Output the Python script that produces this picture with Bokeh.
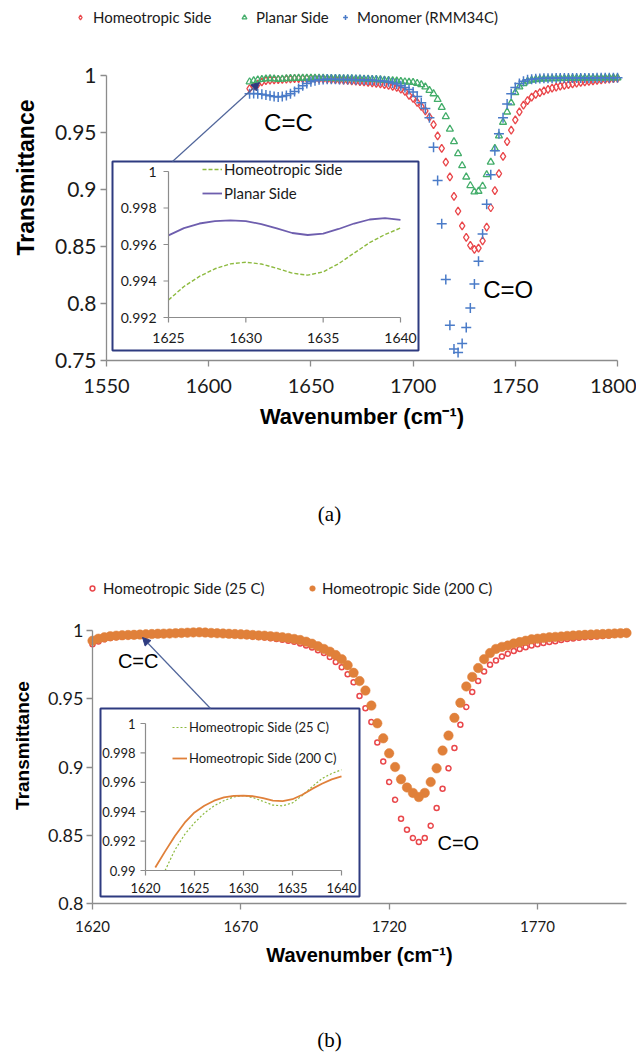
from bokeh.plotting import figure
from bokeh.models import (Range1d, FixedTicker, Legend, LegendItem, Label, Arrow,
                          NormalHead, BoxAnnotation)
from bokeh.embed import file_html
from bokeh.resources import INLINE
from bokeh.core.properties import value
import math

# ---------------------------------------------------------------- data (a)
wn_a = list(range(1620, 1801, 2))
homeo_a = [0.9885, 0.9905, 0.9925, 0.9945, 0.9955, 0.9960, 0.9962, 0.9963, 0.9965, 0.9968,
           0.9970, 0.9972, 0.9973, 0.9973, 0.9973, 0.9972, 0.9972, 0.9971, 0.9970, 0.9968,
           0.9966, 0.9964, 0.9962, 0.9960, 0.9957, 0.9953, 0.9950, 0.9947, 0.9944, 0.9940,
           0.9936, 0.9931, 0.9926, 0.9920, 0.9913, 0.9905, 0.9895, 0.9880, 0.9860, 0.9825,
           0.9800, 0.9765, 0.9730, 0.9690, 0.9635, 0.9570, 0.9470, 0.9360, 0.9240, 0.9110,
           0.8940, 0.8810, 0.8680, 0.8580, 0.8510, 0.8475, 0.8485, 0.8550, 0.8670, 0.8840,
           0.8990, 0.9140, 0.9290, 0.9420, 0.9520, 0.9610, 0.9680, 0.9740, 0.9780, 0.9810,
           0.9835, 0.9850, 0.9865, 0.9878, 0.9889, 0.9898, 0.9906, 0.9913, 0.9920, 0.9927,
           0.9933, 0.9939, 0.9944, 0.9949, 0.9953, 0.9957, 0.9961, 0.9965, 0.9969, 0.9973,
           0.9976]
planar_a = [0.9945, 0.9955, 0.9962, 0.9966, 0.9970, 0.9972, 0.9970, 0.9967, 0.9968, 0.9972,
            0.9974, 0.9975, 0.9976, 0.9976, 0.9977, 0.9977, 0.9977, 0.9976, 0.9976, 0.9975,
            0.9975, 0.9974, 0.9974, 0.9973, 0.9973, 0.9972, 0.9971, 0.9970, 0.9969, 0.9968,
            0.9967, 0.9965, 0.9963, 0.9960, 0.9957, 0.9955, 0.9952, 0.9948, 0.9945, 0.9942,
            0.9940, 0.9932, 0.9920, 0.9900, 0.9870, 0.9840, 0.9790, 0.9720, 0.9640, 0.9530,
            0.9420, 0.9315, 0.9210, 0.9110, 0.9035, 0.8980, 0.8985, 0.9030, 0.9130, 0.9240,
            0.9360, 0.9470, 0.9590, 0.9680, 0.9760, 0.9850, 0.9900, 0.9930, 0.9950, 0.9960,
            0.9965, 0.9968, 0.9970, 0.9971, 0.9972, 0.9973, 0.9974, 0.9975, 0.9975, 0.9976,
            0.9976, 0.9977, 0.9977, 0.9977, 0.9978, 0.9978, 0.9978, 0.9979, 0.9979, 0.9979,
            0.9980]
monomer_a = [0.9840, 0.9842, 0.9840, 0.9836, 0.9830, 0.9822, 0.9815, 0.9812, 0.9815, 0.9825,
             0.9840, 0.9860, 0.9885, 0.9910, 0.9930, 0.9945, 0.9955, 0.9962, 0.9966, 0.9968,
             0.9968, 0.9967, 0.9966, 0.9965, 0.9965, 0.9964, 0.9963, 0.9962, 0.9961, 0.9960,
             0.9958, 0.9956, 0.9955, 0.9950, 0.9945, 0.9935, 0.9925, 0.9910, 0.9895, 0.9878,
             0.9855, 0.9815, 0.9760, 0.9710, 0.9630, 0.9370, 0.9080, 0.8700, 0.8210, 0.7810,
             0.7600, 0.7570, 0.7650, 0.7790, 0.7960, 0.8170, 0.8370, 0.8610, 0.8870, 0.9130,
             0.9340, 0.9490, 0.9630, 0.9750, 0.9840, 0.9895, 0.9930, 0.9950, 0.9962, 0.9968,
             0.9972, 0.9974, 0.9975, 0.9976, 0.9976, 0.9977, 0.9977, 0.9977, 0.9978, 0.9978,
             0.9978, 0.9979, 0.9979, 0.9979, 0.9979, 0.9980, 0.9980, 0.9980, 0.9980, 0.9981,
             0.9981]

# inset (a)
wn_ia = [1625, 1626, 1627, 1628, 1629, 1630, 1631, 1632, 1633, 1634, 1635, 1636, 1637, 1638, 1639, 1640]
homeo_ia = [0.99296, 0.99370, 0.99425, 0.99467, 0.99494, 0.99503, 0.99493, 0.99470, 0.99443, 0.99432,
            0.99450, 0.99495, 0.99553, 0.99610, 0.99655, 0.99690]
planar_ia = [0.99650, 0.99690, 0.99715, 0.99728, 0.99732, 0.99728, 0.99712, 0.99688, 0.99663, 0.99652,
             0.99660, 0.99685, 0.99715, 0.99737, 0.99744, 0.99735]

# ---------------------------------------------------------------- data (b)
wn_b = list(range(1620, 1801, 2))
homeo25_b = [0.9900, 0.9920, 0.9935, 0.9945, 0.9950, 0.9955, 0.9958, 0.9960, 0.9962, 0.9965,
             0.9968, 0.9970, 0.9972, 0.9974, 0.9976, 0.9978, 0.9980, 0.9981, 0.9981, 0.9980,
             0.9978, 0.9976, 0.9973, 0.9970, 0.9967, 0.9964, 0.9960, 0.9956, 0.9952, 0.9948,
             0.9943, 0.9938, 0.9932, 0.9925, 0.9917, 0.9905, 0.9890, 0.9875, 0.9855, 0.9835,
             0.9805, 0.9770, 0.9730, 0.9680, 0.9620, 0.9520, 0.9430, 0.9330, 0.9180, 0.9040,
             0.8890, 0.8760, 0.8620, 0.8540, 0.8480, 0.8450, 0.8480, 0.8570, 0.8700, 0.8840,
             0.8990, 0.9140, 0.9310, 0.9440, 0.9550, 0.9630, 0.9700, 0.9750, 0.9780, 0.9810,
             0.9830, 0.9850, 0.9865, 0.9878, 0.9890, 0.9900, 0.9908, 0.9915, 0.9922, 0.9930,
             0.9937, 0.9942, 0.9946, 0.9950, 0.9953, 0.9956, 0.9960, 0.9964, 0.9968, 0.9972,
             0.9975]
homeo200_b = [0.9925, 0.9940, 0.9950, 0.9958, 0.9962, 0.9965, 0.9967, 0.9968, 0.9970, 0.9972,
              0.9974, 0.9976, 0.9977, 0.9978, 0.9980, 0.9982, 0.9984, 0.9986, 0.9987, 0.9985,
              0.9982, 0.9980, 0.9978, 0.9976, 0.9974, 0.9972, 0.9970, 0.9967, 0.9964, 0.9962,
              0.9958, 0.9955, 0.9950, 0.9945, 0.9938, 0.9930, 0.9918, 0.9903, 0.9885, 0.9865,
              0.9845, 0.9820, 0.9790, 0.9745, 0.9690, 0.9630, 0.9560, 0.9450, 0.9320, 0.9210,
              0.9100, 0.9000, 0.8910, 0.8850, 0.8810, 0.8780, 0.8810, 0.8890, 0.8990, 0.9120,
              0.9230, 0.9360, 0.9470, 0.9590, 0.9660, 0.9725, 0.9790, 0.9835, 0.9865, 0.9880,
              0.9890, 0.9905, 0.9915, 0.9925, 0.9935, 0.9940, 0.9945, 0.9950, 0.9953, 0.9956,
              0.9960, 0.9963, 0.9966, 0.9968, 0.9970, 0.9972, 0.9974, 0.9976, 0.9978, 0.9980,
              0.9982]

# inset (b)
wn_ib200 = [1621, 1622, 1623, 1624, 1625, 1626, 1627, 1628, 1629, 1630,
            1631, 1632, 1633, 1634, 1635, 1636, 1637, 1638, 1639, 1640]
homeo200_ib = [0.99020, 0.99130, 0.99235, 0.99325, 0.99395, 0.99440, 0.99475, 0.99497, 0.99507, 0.99510,
               0.99505, 0.99492, 0.99475, 0.99472, 0.99485, 0.99515, 0.99555, 0.99590, 0.99620, 0.99640]
wn_ib25 = [1622, 1623, 1624, 1625, 1626, 1627, 1628, 1629, 1630,
           1631, 1632, 1633, 1634, 1635, 1636, 1637, 1638, 1639, 1640]
homeo25_ib = [0.99000, 0.99140, 0.99245, 0.99325, 0.99390, 0.99440, 0.99475, 0.99500, 0.99510,
              0.99495, 0.99470, 0.99445, 0.99440, 0.99460, 0.99510, 0.99570, 0.99625, 0.99660, 0.99685]

# ticks
a_xticks = [1550, 1600, 1650, 1700, 1750, 1800]
a_yticks = [0.75, 0.8, 0.85, 0.9, 0.95, 1.0]
a_ylabels = ["0.75", "0.8", "0.85", "0.9", "0.95", "1"]
ia_xticks = [1625, 1630, 1635, 1640]
ia_xlabels = ["1625", "1630", "1635", "1640"]
ia_yticks = [0.992, 0.994, 0.996, 0.998, 1.0]
ia_ylabels = ["0.992", "0.994", "0.996", "0.998", "1"]
b_xticks = [1620, 1670, 1720, 1770]
b_yticks = [0.8, 0.85, 0.9, 0.95, 1.0]
b_ylabels = ["0.8", "0.85", "0.9", "0.95", "1"]
ib_xticks = [1620, 1625, 1630, 1635, 1640]
ib_xlabels = ["1620", "1625", "1630", "1635", "1640"]
ib_yticks = [0.99, 0.992, 0.994, 0.996, 0.998, 1.0]
ib_ylabels = ["0.99", "0.992", "0.994", "0.996", "0.998", "1"]

# ---------------------------------------------------------------- styling
RED = "#e9474b"
GREEN = "#43ad6a"
BLUE = "#4a7bc8"
ORANGE = "#e0803a"
PURPLE = "#6e5eae"
LGREEN = "#8dba3f"
NAVY = "#2e3b80"
ARROW = "#50659a"
AXIS = "#8c8c8c"
TXT = "#1a1a1a"
TICKFONT = "Lato"
SANS = "Liberation Sans"
SERIF = "Liberation Serif"


def cal(p0, v0, p1, v1):
    k = (v1 - v0) / (p1 - p0)
    return lambda p: v0 + (p - p0) * k


def make_fig(width, height, page_y0, fx, fy, ifx, ify):
    # the frame fills the whole canvas; axes are pinned at their data positions
    p = figure(width=width, height=height, output_backend="svg", toolbar_location=None,
               title=None,
               x_range=Range1d(fx(0), fx(width)),
               y_range=Range1d(fy(page_y0 + height), fy(page_y0)),
               min_border_left=0, min_border_right=0, min_border_top=0, min_border_bottom=0)
    p.extra_x_ranges = {"ins": Range1d(ifx(0), ifx(width))}
    p.extra_y_ranges = {"ins": Range1d(ify(page_y0 + height), ify(page_y0))}
    p.outline_line_color = None
    p.xgrid.visible = False
    p.ygrid.visible = False
    p.background_fill_color = "white"
    p.border_fill_color = "white"
    return p


def style_axes(p, xticks, yticks, ylabels, xb, yb, fs_x, fs_y, xstand, ystand,
               xlabel, xlabel_fs, xlabel_stand):
    xa, ya = p.xaxis[0], p.yaxis[0]
    xa.ticker = FixedTicker(ticks=xticks)
    ya.ticker = FixedTicker(ticks=yticks)
    ya.major_label_overrides = dict(zip(yticks, ylabels))
    xa.bounds = xb
    ya.bounds = yb
    ya.fixed_location = xb[0]
    xa.fixed_location = yb[0]
    for ax, fs, st in ((xa, fs_x, xstand), (ya, fs_y, ystand)):
        ax.axis_line_color = AXIS
        ax.axis_line_width = 1.3
        ax.major_tick_line_color = AXIS
        ax.major_tick_line_width = 1.3
        ax.major_tick_out = 6
        ax.major_tick_in = 0
        ax.minor_tick_out = 0
        ax.minor_tick_in = 0
        ax.major_label_text_font = TICKFONT
        ax.major_label_text_font_size = fs
        ax.major_label_text_color = TXT
        ax.major_label_standoff = st
    ya.major_label_orientation = "horizontal"
    xa.axis_label = xlabel
    xa.axis_label_text_font = SANS
    xa.axis_label_text_font_size = xlabel_fs
    xa.axis_label_text_font_style = "bold"
    xa.axis_label_text_color = "black"
    xa.axis_label_standoff = xlabel_stand


def inset_axes(p, xticks, xlabels, yticks, ylabels, ifx, ify, fs, xoff, yoff):
    dx = ifx(1) - ifx(0)
    dy = ify(1) - ify(0)
    x0, x1 = xticks[0], xticks[-1]
    y0, y1 = yticks[0], yticks[-1]
    kw = dict(x_range_name="ins", y_range_name="ins")
    p.segment(x0=[x0, x0], y0=[y0, y0], x1=[x1, x0], y1=[y0, y1],
              line_color=AXIS, line_width=1.2, **kw)
    tl = 5
    p.segment(x0=xticks, y0=[y0] * len(xticks), x1=xticks,
              y1=[y0 + tl * dy] * len(xticks), line_color=AXIS, line_width=1.2, **kw)
    p.segment(x0=[x0] * len(yticks), y0=yticks, x1=[x0 - tl * dx] * len(yticks),
              y1=yticks, line_color=AXIS, line_width=1.2, **kw)
    p.text(x=xticks, y=[y0] * len(xticks), text=xlabels, text_align="center",
           text_baseline="middle", y_offset=xoff, text_font=value(TICKFONT),
           text_font_size=fs, text_color=TXT, **kw)
    p.text(x=[x0] * len(yticks), y=yticks, text=ylabels, text_align="right",
           text_baseline="middle", x_offset=yoff, text_font=value(TICKFONT),
           text_font_size=fs, text_color=TXT, **kw)


def single_legend(p, renderer, label, cx, cy, frame_bottom, gw, fs, standoff):
    gh = 20
    lg = Legend(items=[LegendItem(label=label, renderers=[renderer])],
                location=(cx - gw / 2, frame_bottom - (cy + gh / 2)),
                orientation="horizontal", glyph_width=gw, glyph_height=gh,
                label_height=gh, label_standoff=standoff, padding=0, margin=0,
                border_line_color=None, background_fill_alpha=0,
                label_text_font=TICKFONT, label_text_font_size=fs,
                label_text_color=TXT)
    p.add_layout(lg, "center")


def text_label(p, fx, fy, px, py, text, font, size, bold=False, angle=0.0):
    p.add_layout(Label(x=fx(px), y=fy(py), text=text, text_font=font, text_font_size=size,
                       text_font_style="bold" if bold else "normal", text_color="black",
                       text_align="center", text_baseline="middle", angle=angle))


# ================================================================ panel (a)
WA, HA = 636, 540
A_BOTTOM = HA
ax_ = cal(106, 1550, 617, 1800)
ay_ = cal(75, 1.0, 360, 0.75)
iax = cal(168, 1625, 400, 1640)
iay = cal(171, 1.0, 317, 0.992)

pa = make_fig(WA, HA, 0, ax_, ay_, iax, iay)
style_axes(pa, a_xticks, a_yticks, a_ylabels, (1550, 1800), (0.75, 1.0), "20px", "21px", 12, 4,
           "Wavenumber (cm\u207b\u00b9)", "22px", 8)
text_label(pa, ax_, ay_, 25, 177, "Transmittance", SANS, "23px", bold=True, angle=math.pi / 2)
text_label(pa, ax_, ay_, 329, 513, "(a)", SERIF, "21px")

pa.add_layout(BoxAnnotation(left=ax_(112), right=ax_(418), top=ay_(161), bottom=ay_(350),
                            fill_color="white", fill_alpha=1.0, line_color=NAVY,
                            line_alpha=1.0, line_width=2, level="underlay"))

r_h = pa.scatter(wn_a, homeo_a, marker="diamond", size=8, fill_color=None,
                 line_color=RED, line_width=1.3)
r_p = pa.scatter(wn_a, planar_a, marker="triangle", size=7, fill_color=None,
                 line_color=GREEN, line_width=1.3)
r_m = pa.scatter(wn_a, monomer_a, marker="cross", size=10, line_color=BLUE, line_width=1.5)

single_legend(pa, r_h, "Homeotropic Side", 80, 17, A_BOTTOM, 12, "15px", 7)
single_legend(pa, r_p, "Planar Side", 244, 17, A_BOTTOM, 12, "15px", 6)
single_legend(pa, r_m, "Monomer (RMM34C)", 345, 17, A_BOTTOM, 12, "15px", 6)

ri_h = pa.line(wn_ia, homeo_ia, line_color=LGREEN, line_width=1.4, line_dash="4 2",
               x_range_name="ins", y_range_name="ins")
ri_p = pa.line(wn_ia, planar_ia, line_color=PURPLE, line_width=1.8,
               x_range_name="ins", y_range_name="ins")
inset_axes(pa, ia_xticks, ia_xlabels, ia_yticks, ia_ylabels, iax, iay, "14px", 20, -12)
pa.add_layout(Legend(items=[LegendItem(label="Homeotropic Side", renderers=[ri_h]),
                            LegendItem(label="Planar Side", renderers=[ri_p])],
                     location=(202, A_BOTTOM - 203), orientation="vertical",
                     glyph_width=20, glyph_height=20, label_height=20, spacing=4,
                     label_standoff=2, padding=0, margin=0, border_line_color=None,
                     background_fill_alpha=0, label_text_font=TICKFONT,
                     label_text_font_size="15px", label_text_color=TXT), "center")

pa.add_layout(Arrow(x_start=ax_(172), y_start=ay_(161), x_end=ax_(259), y_end=ay_(82),
                    line_color=ARROW, line_width=1.2,
                    end=NormalHead(size=8, fill_color=NAVY, line_color=NAVY)))

pa.add_layout(Label(x=1639, y=0.959, text="C=C", text_font=SANS, text_font_size="24px",
                    text_color="black", text_align="center", text_baseline="middle"))
pa.add_layout(Label(x=1746.5, y=0.812, text="C=O", text_font=SANS, text_font_size="24px",
                    text_color="black", text_align="center", text_baseline="middle"))

# ================================================================ panel (b)
WB, HB = 636, 514
B_Y0 = HA
B_BOTTOM = B_Y0 + HB
bx_ = cal(92, 1620, 537, 1770)
by_ = cal(630, 1.0, 903, 0.8)
ibx = cal(145, 1620, 341, 1640)
iby = cal(723, 1.0, 870, 0.99)

pb = make_fig(WB, HB, B_Y0, bx_, by_, ibx, iby)
style_axes(pb, b_xticks, b_yticks, b_ylabels, (1620, 1800), (0.8, 1.0), "15px", "18px", 11, 3,
           "Wavenumber (cm\u207b\u00b9)", "20px", 9)
text_label(pb, bx_, by_, 22, 745, "Transmittance", SANS, "19px", bold=True, angle=math.pi / 2)
text_label(pb, bx_, by_, 329, 1039, "(b)", SERIF, "21px")

pb.add_layout(BoxAnnotation(left=bx_(100), right=bx_(359), top=by_(708), bottom=by_(896),
                            fill_color="white", fill_alpha=1.0, line_color=NAVY,
                            line_alpha=1.0, line_width=2, level="underlay"))

r_25 = pb.scatter(wn_b, homeo25_b, marker="circle", size=5, fill_color="white",
                  line_color=RED, line_width=1.5)
r_200 = pb.scatter(wn_b, homeo200_b, marker="circle", size=9.5, fill_color=ORANGE,
                   line_color=ORANGE, line_width=0.5)

single_legend(pb, r_25, "Homeotropic Side (25 C)", 92, 588, B_BOTTOM, 12, "15px", 5)
single_legend(pb, r_200, "Homeotropic Side (200 C)", 312, 588, B_BOTTOM, 14, "15px", 3)

ri_25 = pb.line(wn_ib25, homeo25_ib, line_color=LGREEN, line_width=1.2, line_dash="2 2",
                x_range_name="ins", y_range_name="ins")
ri_200 = pb.line(wn_ib200, homeo200_ib, line_color=ORANGE, line_width=1.8,
                 x_range_name="ins", y_range_name="ins")
inset_axes(pb, ib_xticks, ib_xlabels, ib_yticks, ib_ylabels, ibx, iby, "13px", 17, -10)
pb.add_layout(Legend(items=[LegendItem(label="Homeotropic Side (25 C)", renderers=[ri_25]),
                            LegendItem(label="Homeotropic Side (200 C)", renderers=[ri_200])],
                     location=(172, B_BOTTOM - 768), orientation="vertical",
                     glyph_width=15, glyph_height=20, label_height=20, spacing=11,
                     label_standoff=2, padding=0, margin=0, border_line_color=None,
                     background_fill_alpha=0, label_text_font=TICKFONT,
                     label_text_font_size="13px", label_text_color=TXT), "center")

pb.add_layout(Arrow(x_start=bx_(210), y_start=by_(708), x_end=bx_(142), y_end=by_(637),
                    line_color=ARROW, line_width=1.2,
                    end=NormalHead(size=8, fill_color=NAVY, line_color=NAVY)))

pb.add_layout(Label(x=1635.4, y=0.978, text="C=C", text_font=SANS, text_font_size="20px",
                    text_color="black", text_align="center", text_baseline="middle"))
pb.add_layout(Label(x=1743.3, y=0.844, text="C=O", text_font=SANS, text_font_size="20px",
                    text_color="black", text_align="center", text_baseline="middle"))

open("out.html", "w").write(file_html([pa, pb], INLINE))
